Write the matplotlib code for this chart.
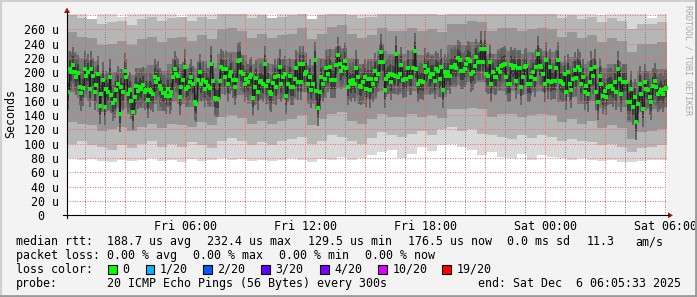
import numpy as np
import matplotlib
matplotlib.use("Agg")
import matplotlib.pyplot as plt
from matplotlib.patches import Rectangle, Polygon
from matplotlib.ticker import FixedLocator, FixedFormatter

# ---------------- data ----------------
# median RTT (microseconds), one value per 5-minute step, Fri 00:06 -> Sat 06:06
med_a = [173,205,201,210,200,194,199,180,171,178,205,195,201,176,204,195,173,182,197,153,
         169,189,151,176,172,193,168,157,161,175,183,142,179,173,202,194,169,175,160,144,
         165,181,174,179,176,182,173,175,161,175,172,169,194,186,190,181,176,171,171,167]
med_b = [176,167,172,194,204,198,195,165,180,189,207,176,179,186,194,183,159,155,189,200,
         183,189,176,186,181,178,212,188,164,162,162,188,208,204,194,204,183,195,200,189,
         179,189,216,217,201,197,183,190,186,194,196,164,179,192,173,186,188,183,212,181]
med_c = [188,173,170,185,193,179,195,208,183,193,197,167,183,195,179,179,190,206,186,211,
         186,212,198,201,183,194,175,183,217,174,150,172,193,183,190,206,197,208,189,189,
         189,210,224,211,202,207,216,206,179,188,183,189,183,206,193,181,179,186,194,176]
med_d = [190,175,190,183,202,190,198,215,228,214,175,190,195,198,186,196,195,226,194,198,
         210,189,190,190,206,193,194,206,230,204,183,188,188,186,209,201,203,194,198,197,
         188,204,202,190,207,175,201,195,200,195,208,208,210,206,220,217,202,202,204,212]
med_e = [218,216,197,200,209,222,215,215,232,214,232,198,195,214,183,200,194,193,204,201,
         209,210,212,194,183,183,210,206,209,188,206,206,179,194,207,209,183,183,193,200,
         190,207,225,209,207,198,183,217,188,208,186,188,188,206,217,188,186,184,198,172]
med_f = [200,183,175,190,203,192,208,203,183,194,172,181,169,186,204,195,207,173,159,195,
         183,167,174,165,179,181,181,176,186,172,204,190,170,186,186,186,159,158,176,151,
         165,130,156,183,169,148,186,176,175,166,158,181,188,179,169,172,175,169,176,178]

# smoke (ping spread) per 30-minute block, microseconds
smoke_min = [80,78,79,76,74,77,76,78,80,76, 77,75,79,76,78,80,77,79,76,78,
             76,78,80,77,75,79,77,81,78,80, 84,88,92,80,86,95,90,98,100,96,
             92,84,88,82,80,86,78,84,82,80, 78,80,77,76,78,75,74,76,78,77]
smoke_p10 = [100,104,98,96,92,98,94,100,104,96, 100,96,102,98,94,104,108,104,98,102,
             98,104,106,110,100,104,112,110,104,100, 108,116,112,110,114,118,112,120,124,118,
             120,114,112,110,106,112,108,112,110,104, 106,104,102,98,100,96,88,94,96,98]
smoke_p25 = [130,128,126,118,120,124,118,124,128,122, 128,126,124,130,126,138,140,136,128,132,
             128,132,134,140,126,134,142,144,132,128, 134,142,138,138,142,138,140,136,148,148,
             150,148,138,142,142,138,140,142,140,130, 134,128,132,122,126,122,106,116,118,120]
smoke_p40 = [172,164,160,144,146,150,142,150,156,146, 158,156,152,160,152,170,174,168,156,164,
             156,162,162,172,156,164,176,178,164,156, 162,174,170,170,174,168,170,166,180,182,
             186,186,170,174,174,170,172,174,172,158, 166,156,160,150,156,152,130,146,148,150]
smoke_p60 = [228,220,216,198,200,204,196,206,210,202, 212,212,206,216,206,226,228,224,212,220,
             212,218,218,228,210,220,232,234,220,212, 218,230,226,226,230,224,226,222,238,238,
             242,242,226,232,230,226,228,230,228,214, 222,212,216,206,212,208,186,202,202,204]
smoke_p75 = [256,250,248,238,240,244,238,246,250,242, 248,250,244,252,246,260,262,258,248,254,
             248,252,254,262,246,254,264,266,254,248, 252,262,258,258,262,258,260,256,268,268,
             272,270,258,262,262,258,260,262,260,250, 256,248,252,242,248,244,228,240,240,242]
smoke_p90 = [280,276,274,268,270,272,266,274,278,272, 276,278,272,278,274,284,286,282,276,280,
             276,278,280,286,274,280,288,290,280,276, 278,286,282,282,286,282,284,280,290,290,
             292,290,282,286,286,282,284,286,284,276, 280,274,278,270,276,272,260,268,268,270]
smoke_max = [295,295,272,295,295,278,295,295,295,295, 295,276,295,295,295,270,272,295,295,295,
             274,295,295,295,268,295,295,295,295,295, 295,278,295,295,295,276,295,295,295,295,
             295,295,278,295,295,295,295,295,272,295, 295,295,295,280,295,295,295,295,276,295]

x_labels = ["Fri 06:00", "Fri 12:00", "Fri 18:00", "Sat 00:00", "Sat 06:00"]
loss_labels = ["0", "1/20", "2/20", "3/20", "4/20", "10/20", "19/20"]
loss_colors = ["#00ff00", "#00b8ff", "#0059ff", "#5e00ff", "#7e00ff", "#dd00ff", "#ff0000"]

median = np.array(med_a + med_b + med_c + med_d + med_e + med_f, dtype=float)

# ---------------- figure ----------------
W, H = 697, 297
MONO = "DejaVu Sans Mono"
FS = 8.4
fig = plt.figure(figsize=(W / 100, H / 100), dpi=100, facecolor="#f3f3f3")

ax = fig.add_axes([67 / W, 1 - 215.3 / H, 600 / W, 201.3 / H])
ax.set_facecolor("white")
t0 = 0.1          # hours after Fri 00:00
step = 1 / 12     # 5 minutes
t = t0 + (np.arange(len(median)) + 0.5) * step
edges = t0 + 0.5 * np.arange(len(smoke_min) + 1)

def band(lo, hi, color):
    lo = np.append(lo, lo[-1]); hi = np.append(hi, hi[-1])
    ax.fill_between(edges, lo, hi, step="post", color=color, lw=0, zorder=1)

band(smoke_min, smoke_max, "#d8d8d8")
band(smoke_p10, smoke_p90, "#b6b6b6")
band(smoke_p25, smoke_p75, "#969696")
band(smoke_p40, smoke_p60, "#777777")
# dark smoke core around each median
ax.plot(t, median, "|", color="#5e5e5e", ms=26, mew=1.25, zorder=2)
ax.plot(t, median, "|", color="#3a3a3a", ms=13, mew=1.25, zorder=2.1)
ax.plot(t, median, drawstyle="steps-mid", color="#1e1e1e", lw=0.9, zorder=3)
ax.plot(t, median, "s", color="#10f010", ms=2.3, mew=0, zorder=4)

ax.set_xlim(t0, t0 + 30)
ax.set_ylim(0, 281.5)

# grid
maj = np.arange(3, 31, 3)
ax.xaxis.set_major_locator(FixedLocator(maj))
ax.xaxis.set_major_formatter(FixedFormatter(
    [x_labels[(i - 1) // 2] if i % 2 == 0 else "" for i in range(1, len(maj) + 1)]))
ax.xaxis.set_minor_locator(FixedLocator(np.arange(1, 31, 1)))
yt = np.arange(0, 261, 20)
ax.yaxis.set_major_locator(FixedLocator(list(yt) + [280]))
ax.yaxis.set_major_formatter(FixedFormatter([f"{v} u" if v else "0  " for v in yt] + [""]))
ax.set_axisbelow(False)
ax.grid(which="major", axis="x", color=(1, 0.35, 0.35, 0.5), lw=0.72, ls=(0, (1, 1.5)))
ax.grid(which="major", axis="y", color=(1, 0.4, 0.4, 0.38), lw=0.72, ls=(0, (1, 1.5)))
ax.grid(which="minor", axis="x", color=(0.5, 0.5, 0.5, 0.3), lw=0.72, ls=(0, (1, 1.5)))
for gl in ax.get_xgridlines() + ax.xaxis.get_minorticklines():
    gl.set_snap(True)
ax.tick_params(which="both", length=0)
ax.tick_params(axis="y", pad=5.8)
ax.tick_params(axis="x", pad=3.2)
for lab in ax.get_xticklabels() + ax.get_yticklabels():
    lab.set_fontfamily(MONO); lab.set_fontsize(FS)
for s in ax.spines.values():
    s.set_visible(False)

# overlay in pixel coordinates
ov = fig.add_axes([0, 0, 1, 1], facecolor="none")
ov.set_xlim(0, W); ov.set_ylim(H, 0); ov.axis("off")

# axis lines and arrows
ov.plot([63, 669], [215.3, 215.3], color="black", lw=0.8)
ov.plot([67, 67], [218, 12], color="black", lw=0.8)
ov.add_patch(Polygon([(668, 212.3), (668, 218.3), (673, 215.3)], closed=True, color="#a01818", lw=0))
ov.add_patch(Polygon([(64, 13), (70, 13), (67, 7.5)], closed=True, color="#a01818", lw=0))

# border
ov.plot([0.5, 0.5], [0, H], color="#cfcfcf", lw=1.5)
ov.plot([0, W], [0.5, 0.5], color="#cfcfcf", lw=1.5)
ov.plot([0, W], [H - 1, H - 1], color="#9a9a9a", lw=2)
ov.plot([W - 1, W - 1], [0, H], color="#9a9a9a", lw=2)

def txt(x, y, s, **kw):
    ov.text(x, y, s, va="center", ha="left", fontsize=FS, family=MONO, color="black", **kw)

fig.text(11 / W, 1 - 114 / H, "Seconds", rotation=90, va="center", ha="center",
         fontsize=FS, family=MONO)
fig.text(688 / W, 1 - 60 / H, "RRDTOOL / TOBI OETIKER", rotation=270, va="center",
         ha="center", fontsize=6.0, family=MONO, color="#a8a8a8")

y1, y2, y3, y4 = 241.7, 255.2, 269.3, 283.3
txt(16, y1, "median rtt:")
for x, s in [(107, "188.7 us avg"), (207, "232.4 us max"), (308, "129.5 us min"),
             (408, "176.5 us now"), (507, "0.0 ms sd"), (587, "11.3"), (635, "am/s")]:
    txt(x, y1, s)
txt(16, y2, "packet loss:")
for x, s in [(107, "0.00 % avg"), (193, "0.00 % max"), (279, "0.00 % min"), (365, "0.00 % now")]:
    txt(x, y2, s)
txt(16, y3, "loss color:")
sq_x = [108.3, 145.7, 203, 261, 320, 378.3, 442.3]
for sx, lab, col in zip(sq_x, loss_labels, loss_colors):
    ov.add_patch(Rectangle((sx, y3 - 4.3), 8.6, 8.6, facecolor=col, edgecolor="black", lw=0.8))
    txt(sx + 14.3, y3, lab)
txt(16, y4, "probe:")
txt(107, y4, "20 ICMP Echo Pings (56 Bytes) every 300s")
txt(478.3, y4, "end: Sat Dec  6 06:05:33 2025")

fig.savefig("out.png", dpi=100, facecolor=fig.get_facecolor())
